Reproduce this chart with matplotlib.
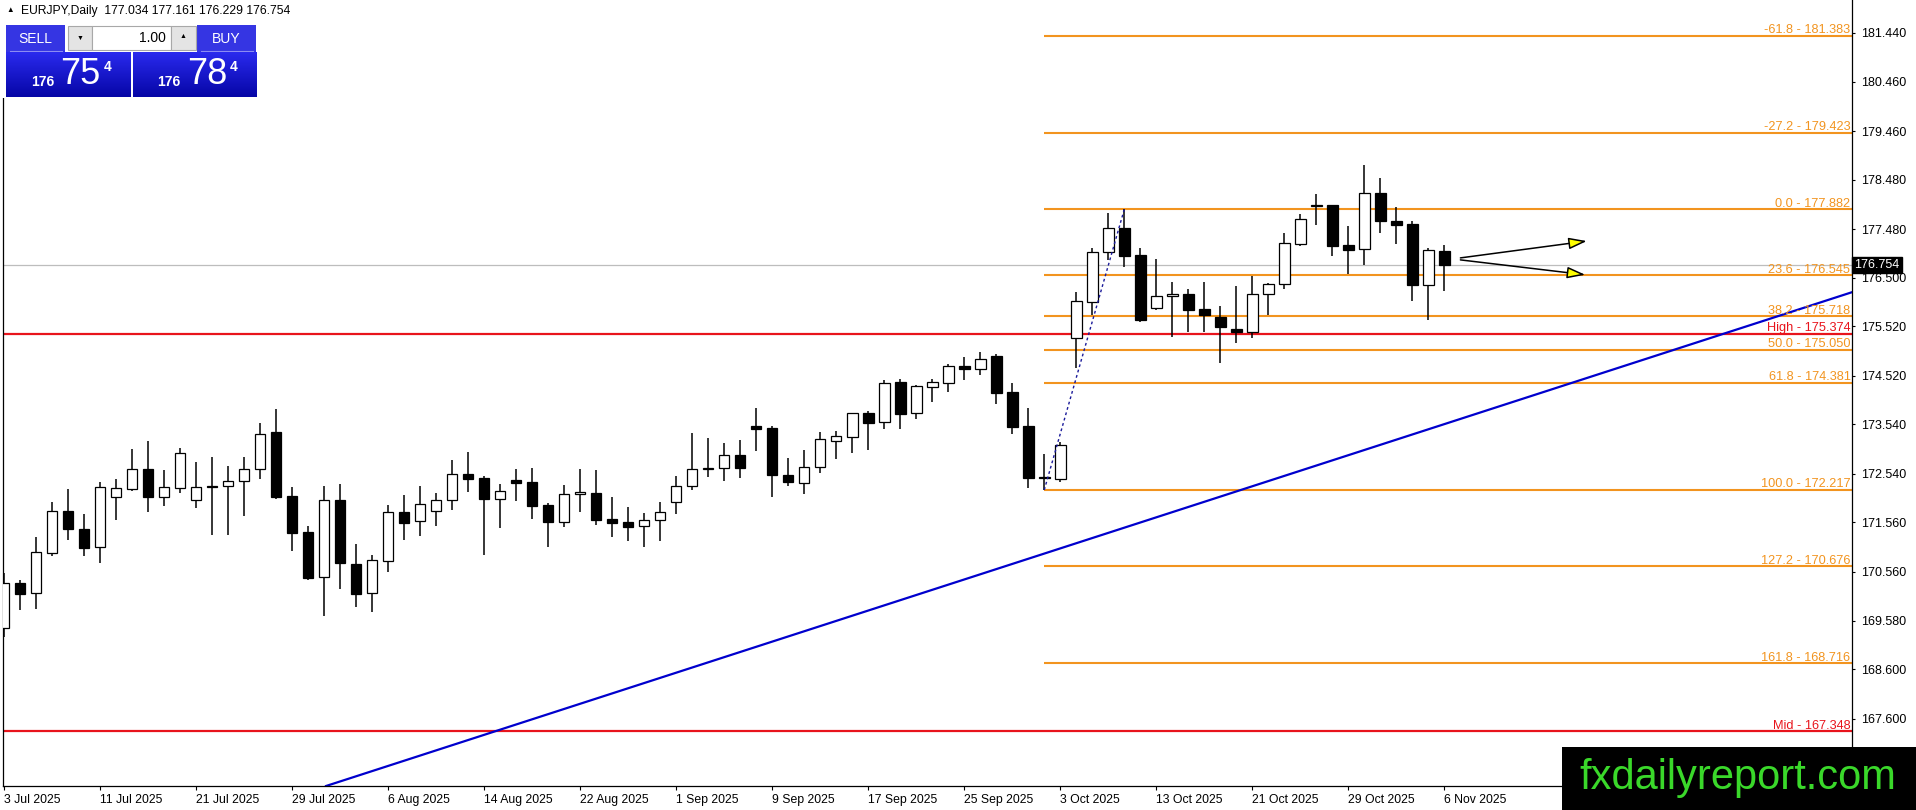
import matplotlib
matplotlib.use("Agg")
import matplotlib.pyplot as plt
import matplotlib.transforms as mtransforms
from matplotlib.patches import Rectangle
from matplotlib.colors import LinearSegmentedColormap
import numpy as np

plt.rcParams['font.family'] = ['Liberation Sans', 'DejaVu Sans']

# -------------------------------------------------------
# DATA  (EURJPY daily candles, 3 Jul 2025 .. 6 Nov 2025)
# -------------------------------------------------------
opens = [169.423, 170.331, 170.130, 170.950, 171.785, 171.421, 171.058, 172.067, 172.242, 172.633,
         172.081, 172.263, 172.007, 172.290, 172.289, 172.390, 172.633, 173.379, 172.088, 171.361,
         170.452, 172.007, 170.715, 170.130, 170.789, 171.765, 171.583, 171.798, 172.007, 172.532,
         172.451, 172.040, 172.417, 172.370, 171.906, 171.576, 172.128, 172.148, 171.623, 171.562,
         171.482, 171.603, 171.966, 172.289, 172.640, 172.652, 172.915, 173.507, 173.467, 172.511,
         172.363, 172.673, 173.198, 173.292, 173.763, 173.581, 174.389, 173.763, 174.301, 174.368,
         174.718, 174.664, 174.913, 174.193, 173.507, 172.470, 172.444, 175.277, 176.003, 177.013,
         177.504, 176.959, 175.896, 176.125, 176.172, 175.869, 175.701, 175.458, 175.411, 176.165,
         176.366, 177.187, 177.955, 177.968, 177.154, 177.073, 178.203, 177.645, 177.584, 176.360,
         177.034]
highs = [170.547, 170.399, 171.267, 171.973, 172.236, 171.731, 172.370, 172.437, 173.043, 173.205,
         172.619, 173.056, 172.781, 172.882, 172.700, 172.882, 173.575, 173.850, 172.276, 171.482,
         172.289, 172.330, 171.125, 170.903, 171.906, 172.108, 172.289, 172.155, 172.821, 172.989,
         172.498, 172.336, 172.639, 172.659, 171.953, 172.316, 172.639, 172.619, 172.074, 171.872,
         171.751, 171.973, 172.498, 173.366, 173.265, 173.164, 173.231, 173.871, 173.514, 172.868,
         173.023, 173.386, 173.413, 173.770, 173.810, 174.436, 174.456, 174.335, 174.456, 174.752,
         174.893, 175.001, 174.954, 174.368, 173.864, 172.942, 173.191, 176.205, 177.093, 177.807,
         177.882, 177.093, 176.878, 176.407, 176.273, 176.407, 175.929, 176.333, 176.535, 176.400,
         177.396, 177.779, 178.190, 177.968, 177.544, 178.782, 178.513, 177.921, 177.652, 177.093,
         177.161]
lows = [169.255, 169.793, 169.813, 170.890, 171.206, 170.890, 170.749, 171.610, 172.202, 171.778,
        171.899, 172.162, 171.859, 171.314, 171.314, 171.697, 172.431, 172.027, 170.991, 170.399,
        169.679, 170.224, 169.860, 169.759, 170.567, 171.213, 171.294, 171.495, 171.818, 172.182,
        170.910, 171.455, 172.000, 171.636, 171.071, 171.475, 171.778, 171.515, 171.266, 171.192,
        171.071, 171.192, 171.737, 172.222, 172.484, 172.403, 172.451, 173.009, 172.081, 172.303,
        172.141, 172.565, 172.848, 172.969, 173.029, 173.453, 173.440, 173.642, 173.998, 174.187,
        174.442, 174.543, 173.944, 173.339, 172.249, 172.217, 172.370, 174.685, 175.748, 176.851,
        176.723, 175.613, 175.849, 175.310, 175.405, 175.405, 174.772, 175.189, 175.290, 175.747,
        176.265, 177.147, 177.571, 176.938, 176.568, 176.757, 177.409, 177.187, 176.037, 175.653,
        176.229]
closes = [170.331, 170.123, 170.957, 171.785, 171.435, 171.051, 172.269, 172.249, 172.633, 172.081,
          172.269, 172.956, 172.269, 172.280, 172.390, 172.633, 173.339, 172.081, 171.354, 170.446,
          172.007, 170.749, 170.123, 170.796, 171.765, 171.556, 171.926, 172.007, 172.532, 172.444,
          172.040, 172.188, 172.363, 171.899, 171.576, 172.128, 172.168, 171.616, 171.556, 171.475,
          171.603, 171.764, 172.289, 172.639, 172.650, 172.915, 172.666, 173.453, 172.525, 172.383,
          172.680, 173.238, 173.299, 173.763, 173.574, 174.368, 173.756, 174.308, 174.389, 174.712,
          174.664, 174.866, 174.180, 173.494, 172.464, 172.455, 173.124, 176.024, 177.013, 177.497,
          176.945, 175.653, 176.131, 176.172, 175.855, 175.748, 175.512, 175.404, 176.165, 176.366,
          177.194, 177.678, 177.965, 177.147, 177.066, 178.203, 177.638, 177.571, 176.360, 177.059,
          176.754]

# x-axis date labels (one every 6 bars)
date_labels = ["3 Jul 2025", "11 Jul 2025", "21 Jul 2025", "29 Jul 2025", "6 Aug 2025",
               "14 Aug 2025", "22 Aug 2025", "1 Sep 2025", "9 Sep 2025", "17 Sep 2025",
               "25 Sep 2025", "3 Oct 2025", "13 Oct 2025", "21 Oct 2025", "29 Oct 2025",
               "6 Nov 2025"]

# right price axis labels
price_ticks = [181.440, 180.460, 179.460, 178.480, 177.480, 176.500, 175.520, 174.520,
               173.540, 172.540, 171.560, 170.560, 169.580, 168.600, 167.600]

# Fibonacci levels (anchor low bar 65 -> high bar 70)
fib_pct = ["-61.8", "-27.2", "0.0", "23.6", "38.2", "50.0", "61.8", "100.0", "127.2", "161.8"]
fib_price = [181.383, 179.423, 177.882, 176.545, 175.718, 175.050, 174.381, 172.217, 170.676, 168.716]
fib_anchor_bars = [65, 70]
fib_anchor_prices = [172.217, 177.882]

# horizontal red levels
red_names = ["High", "Mid"]
red_prices = [175.374, 167.348]

# rising trend line (two anchor points)
trend_bars = [20, 110]
trend_prices = [166.227, 175.636]

# projection arrows
arrow_x0 = [91.0, 91.0]
arrow_y0 = [176.90, 176.86]
arrow_x1 = [98.9, 98.8]
arrow_y1 = [177.24, 176.56]

last_price = 176.754
header = "EURJPY,Daily  177.034 177.161 176.229 176.754"

# -------------------------------------------------------
# FIGURE
# -------------------------------------------------------
W, H = 1916, 810
fig = plt.figure(figsize=(W / 100, H / 100), dpi=100)
fig.patch.set_facecolor("white")

left_px, right_px, bottom_px = 2.7, 1852.5, 786
ax = fig.add_axes([left_px / W, (H - bottom_px) / H, (right_px - left_px) / W, bottom_px / H])
ax.set_facecolor("white")

o = np.array(opens)
h = np.array(highs)
l = np.array(lows)
c = np.array(closes)
x = np.arange(len(o))

ax.set_xlim(-0.08, 115.5)
ax.set_ylim(166.24, 182.106)

orange = "#F2941F"
red = "#E8141C"

# grey current price line
ax.axhline(last_price, color="#BDBDBD", lw=0.9, zorder=1)

# fib levels
xr = ax.get_xlim()[1]
ax.hlines(fib_price, fib_anchor_bars[0], xr, color=orange, lw=1.5, zorder=1.5)
blend = mtransforms.blended_transform_factory(ax.transAxes, ax.transData)
for pct, p in zip(fib_pct, fib_price):
    ax.annotate(f"{pct} - {p:.3f}", xy=(1, p), xycoords=blend, xytext=(-2, 2.5),
                textcoords="offset pixels", ha="right", va="baseline",
                color=orange, fontsize=9.2, zorder=5)

# red levels
for name, p in zip(red_names, red_prices):
    ax.axhline(p, color=red, lw=1.6, zorder=1.6)
    ax.annotate(f"{name} - {p:.3f}", xy=(1, p), xycoords=blend, xytext=(-2, 2.5),
                textcoords="offset pixels", ha="right", va="baseline",
                color=red, fontsize=9.2, zorder=5)

# trend line
ax.axline((trend_bars[0], trend_prices[0]), (trend_bars[1], trend_prices[1]),
          color="#0000CD", lw=1.6, zorder=1.7)

# fib anchor dotted line
ax.plot(fib_anchor_bars, fib_anchor_prices, color="#1A1A9A", lw=1.0,
        linestyle=(0, (2, 2)), zorder=4)

# candles
up = c >= o
body_bottom = np.minimum(o, c)
body_h = np.abs(c - o)
ax.vlines(x, l, h, color="black", lw=1.1, zorder=2)
ax.bar(x, body_h, bottom=body_bottom, width=0.66,
       color=np.where(up, "white", "black"), edgecolor="black", linewidth=0.9, zorder=3)

# arrows
for xa, ya, xb, yb in zip(arrow_x0, arrow_y0, arrow_x1, arrow_y1):
    ax.annotate("", xy=(xb, yb), xytext=(xa, ya),
                arrowprops=dict(arrowstyle="-|>,head_length=1.1,head_width=0.35",
                                fc="yellow", ec="black", lw=1.1, shrinkA=0, shrinkB=0),
                zorder=6)

# axes styling
for side in ["left", "bottom", "right"]:
    ax.spines[side].set_color("black")
    ax.spines[side].set_linewidth(0.9)
ax.spines["top"].set_visible(False)

ax.yaxis.tick_right()
ax.set_yticks(price_ticks)
ax.set_yticklabels([f"{t:.3f}" for t in price_ticks])
ax.tick_params(axis="y", direction="out", length=2.5, width=0.8, pad=4,
               labelsize=9, colors="black")

ax.set_xticks(np.arange(0, len(o), 6))
ax.set_xticklabels(date_labels)
ax.tick_params(axis="x", direction="out", length=3, width=0.8, pad=3, labelsize=8.8)
for lab in ax.get_xticklabels():
    lab.set_horizontalalignment("left")

# last price label on the axis
ax.text(1.001, last_price, "176.754", transform=blend, ha="left", va="center",
        color="white", fontsize=9, zorder=10, clip_on=False,
        bbox=dict(boxstyle="square,pad=0.18", fc="black", ec="black"))

# -------------------------------------------------------
# OVERLAY: header, one-click panel, watermark (pixel coords)
# -------------------------------------------------------
ov = fig.add_axes([0, 0, 1, 1], zorder=20)
ov.set_xlim(0, W)
ov.set_ylim(H, 0)
ov.axis("off")
ov.patch.set_alpha(0)

ov.add_patch(Rectangle((0, 0), 262, 98, fc="white", ec="none"))
ov.text(6, 11, "\u25b2", fontsize=5.5, color="black", va="center", ha="left")
ov.text(21, 11, header, fontsize=8.7, color="black", va="center", ha="left")

btn = "#3535E3"
ov.add_patch(Rectangle((6, 25), 59, 27, fc=btn, ec="none"))
ov.add_patch(Rectangle((197, 25), 59, 27, fc=btn, ec="none"))
ov.plot([10, 62], [51, 51], color="#8C8CF2", lw=0.8)
ov.plot([201, 253], [51, 51], color="#8C8CF2", lw=0.8)
ov.text(35, 39, "SELL", color="white", fontsize=10, ha="center", va="center")
ov.text(226, 39, "BUY", color="white", fontsize=10, ha="center", va="center")

ov.add_patch(Rectangle((68, 26), 24, 24, fc="#E4E4E4", ec="#A8A8A8", lw=0.8))
ov.add_patch(Rectangle((92, 26), 79, 24, fc="white", ec="#A8A8A8", lw=0.8))
ov.add_patch(Rectangle((171, 26), 25, 24, fc="#E4E4E4", ec="#A8A8A8", lw=0.8))
ov.text(80, 38, "\u25bc", fontsize=5, color="black", ha="center", va="center")
ov.text(183, 37, "\u25b2", fontsize=5, color="black", ha="center", va="center")
ov.text(166, 38, "1.00", fontsize=10, color="black", ha="right", va="center")

grad = LinearSegmentedColormap.from_list("g", ["#2A2AEE", "#0606A6"])
ramp = np.linspace(0, 1, 64).reshape(-1, 1)
for x0, x1 in [(6, 131), (133, 257)]:
    ov.imshow(ramp, cmap=grad, extent=(x0, x1, 97, 52), aspect="auto", zorder=2)
ov.set_xlim(0, W)
ov.set_ylim(H, 0)

for x176, big, xbig, xsup in [(43, "75", 80, 108), (169, "78", 207, 234)]:
    ov.text(x176, 82, "176", color="white", fontsize=10, fontweight="bold",
            ha="center", va="center", zorder=3)
    ov.text(xbig, 74, big, color="white", fontsize=26, ha="center", va="center", zorder=3)
    ov.text(xsup, 67, "4", color="white", fontsize=10, fontweight="bold",
            ha="center", va="center", zorder=3)

# watermark
ov.add_patch(Rectangle((1562, 747), W - 1562, H - 747, fc="black", ec="none", zorder=4))
ov.text(1738, 778, "fxdailyreport.com", color="#3AD82A", fontsize=30,
        ha="center", va="center", zorder=5)

fig.savefig("out.png", dpi=100)
